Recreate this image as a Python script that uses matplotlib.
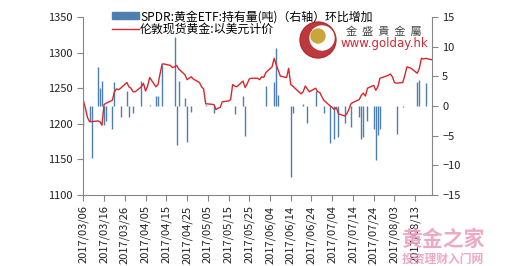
import matplotlib
matplotlib.use("Agg")
import matplotlib.pyplot as plt
import matplotlib.dates as mdates
import matplotlib.patches as mpatches
from matplotlib.lines import Line2D
import pandas as pd

plt.rcParams['font.family'] = ['Noto Sans CJK SC', 'DejaVu Sans']

# gold price (left axis), USD
gold_dates = ["03/06", "03/07", "03/08", "03/09", "03/10", "03/13", "03/14", "03/15", "03/16", "03/17",
              "03/20", "03/21", "03/22", "03/23", "03/24", "03/27", "03/28", "03/29", "03/30", "03/31",
              "04/03", "04/04", "04/05", "04/06", "04/07", "04/10", "04/11", "04/12", "04/13", "04/14",
              "04/17", "04/18", "04/19", "04/20", "04/21", "04/24", "04/25", "04/26", "04/27", "04/28",
              "05/01", "05/02", "05/03", "05/04", "05/05", "05/08", "05/09", "05/10", "05/11", "05/12",
              "05/15", "05/16", "05/17", "05/18", "05/19", "05/22", "05/23", "05/24", "05/25", "05/26",
              "05/29", "05/30", "05/31", "06/01", "06/02", "06/05", "06/06", "06/07", "06/08", "06/09",
              "06/12", "06/13", "06/14", "06/15", "06/16", "06/19", "06/20", "06/21", "06/22", "06/23",
              "06/26", "06/27", "06/28", "06/29", "06/30", "07/03", "07/04", "07/05", "07/06", "07/07",
              "07/10", "07/11", "07/12", "07/13", "07/14", "07/17", "07/18", "07/19", "07/20", "07/21",
              "07/24", "07/25", "07/26", "07/27", "07/28", "07/31", "08/01", "08/02", "08/03", "08/04",
              "08/07", "08/08", "08/09", "08/10", "08/11", "08/14", "08/15", "08/16", "08/17", "08/18",
              "08/21"]
gold_values = [1233, 1222, 1209, 1203, 1203, 1204, 1203, 1198, 1227, 1229,
               1233, 1245, 1249, 1248, 1250, 1258, 1252, 1250, 1245, 1245,
               1252, 1257, 1246, 1253, 1265, 1252, 1255, 1270, 1284, 1284,
               1282, 1279, 1280, 1282, 1277, 1269, 1262, 1264, 1266, 1263,
               1258, 1252, 1249, 1228, 1228, 1227, 1220, 1222, 1223, 1231,
               1232, 1234, 1255, 1253, 1252, 1260, 1251, 1256, 1263, 1264,
               1264, 1262, 1266, 1265, 1272, 1280, 1292, 1283, 1275, 1267,
               1265, 1278, 1255, 1253, 1250, 1242, 1245, 1253, 1249, 1245,
               1250, 1245, 1244, 1238, 1233, 1225, 1223, 1220, 1223, 1214,
               1211, 1214, 1220, 1228, 1230, 1234, 1240, 1243, 1239, 1250,
               1254, 1247, 1252, 1264, 1265, 1268, 1270, 1266, 1258, 1257,
               1258, 1268, 1280, 1279, 1278, 1271, 1278, 1292, 1291, 1292,
               1290]

# SPDR holdings change (right axis), tonnes
etf_dates = ["03/06", "03/09", "03/10", "03/13", "03/14", "03/15", "03/16", "03/17", "03/20", "03/21",
             "03/24", "03/27", "03/28", "03/30", "04/03", "04/07", "04/10", "04/11", "04/13", "04/19",
             "04/20", "04/21", "04/24", "04/25", "04/27", "05/04", "05/08", "05/18", "05/22", "05/23",
             "06/02", "06/06", "06/07", "06/08", "06/14", "06/15", "06/20", "06/22", "06/26", "06/30",
             "07/03", "07/05", "07/07", "07/10", "07/13", "07/17", "07/18", "07/19", "07/21", "07/24",
             "07/25", "07/26", "07/27", "08/04", "08/07", "08/14", "08/15", "08/18"]
etf_values = [-3.4, -2.6, -8.8, 6.6, 3.0, 4.2, -3.2, -2.6, -3.8, 4.1,
              -1.8, 2.5, -1.8, -1.2, 4.2, 0.1, 1.7, 1.7, 6.9, 11.7,
              -6.6, 4.2, 1.4, -6.0, -1.0, 0.1, -1.2, -1.3, 1.7, -5.0,
              3.4, 4.1, 9.7, 1.9, -12.0, -1.2, 0.3, -2.9, 2.6, -1.2,
              -6.2, -5.6, -5.3, -2.9, -3.6, -1.8, -5.6, -5.3, -2.5, -3.9,
              -9.1, -4.9, -3.9, -4.7, -0.2, 4.1, 4.3, 3.8]

gold_x = pd.to_datetime(["2017/" + d for d in gold_dates])
etf_x = pd.to_datetime(["2017/" + d for d in etf_dates])
tick_x = pd.date_range("2017-03-06", "2017-08-13", freq="10D")

axis_col = "#868686"
bar_col = "#4f7fb0"
line_col = "#d9262b"

fig = plt.figure(figsize=(5.11, 2.66), dpi=100)
ax = fig.add_axes([0.163, 0.267, 0.682, 0.669])
ax2 = ax.twinx()

# thin columns, one per trading day
ax2.vlines(etf_x, 0, etf_values, color=bar_col, lw=1.0)
ax.plot(gold_x, gold_values, color=line_col, lw=1.0)
ax.set_zorder(ax2.get_zorder() + 1)
ax.patch.set_visible(False)

ax.set_xlim(pd.Timestamp("2017-03-06"), pd.Timestamp("2017-08-21"))
ax.set_ylim(1100, 1350)
ax.set_yticks(range(1100, 1351, 50))
ax2.set_ylim(-15, 15)
ax2.set_yticks(range(-15, 16, 5))
ax.set_xticks(tick_x)
ax.xaxis.set_major_formatter(mdates.DateFormatter("%Y/%m/%d"))
for lab in ax.get_xticklabels():
    lab.set_rotation(90)

for a in (ax, ax2):
    a.spines['top'].set_visible(False)
    for s in ('left', 'right', 'bottom'):
        a.spines[s].set_color(axis_col)
        a.spines[s].set_linewidth(0.8)
    a.tick_params(colors=axis_col, labelcolor="#222222", labelsize=8, length=4, width=0.8)
ax.spines['right'].set_visible(False)
ax2.spines['left'].set_visible(False)
ax2.spines['bottom'].set_visible(False)

handles = [mpatches.Patch(color=bar_col), Line2D([], [], color=line_col, lw=1.0)]
labels = ["SPDR:黄金ETF:持有量(吨)（右轴）环比增加", "伦敦现货黄金:以美元计价"]
fig.legend(handles, labels, loc="upper left", bbox_to_anchor=(0.219, 0.962), frameon=False,
           fontsize=8.6, handlelength=2.3, handleheight=0.5, handletextpad=0.05, labelspacing=-0.05,
           borderaxespad=0, borderpad=0)

# watermarks
fig.patches.append(mpatches.Circle((318, 226), 18, transform=None, color="#b5232b", alpha=0.9, zorder=5))
fig.patches.append(mpatches.Circle((322, 228), 12, transform=None, color="white", zorder=5))
fig.patches.append(mpatches.Circle((318, 230), 7, transform=None, color="#c9a53a", zorder=5))
fig.text(384 / 511, 1 - 32 / 266, "金  盛  貴  金  屬", fontsize=8, color="#444444", ha="center", va="center")
fig.text(384 / 511, 1 - 44 / 266, "www.golday.hk", fontsize=8.5, color="#d02a36", ha="center", va="center",
         family="DejaVu Sans")
fig.text(443 / 511, 1 - 239 / 266, "黄金之家", fontsize=15, color="#ec9fbf", ha="center", va="center",
         weight="bold", alpha=0.9)
fig.text(443 / 511, 1 - 259 / 266, "投资理财入门网", fontsize=8.5, color="#ec9fbf", ha="center", va="center",
         weight="bold", alpha=0.9)

fig.savefig("out.png", dpi=100)
